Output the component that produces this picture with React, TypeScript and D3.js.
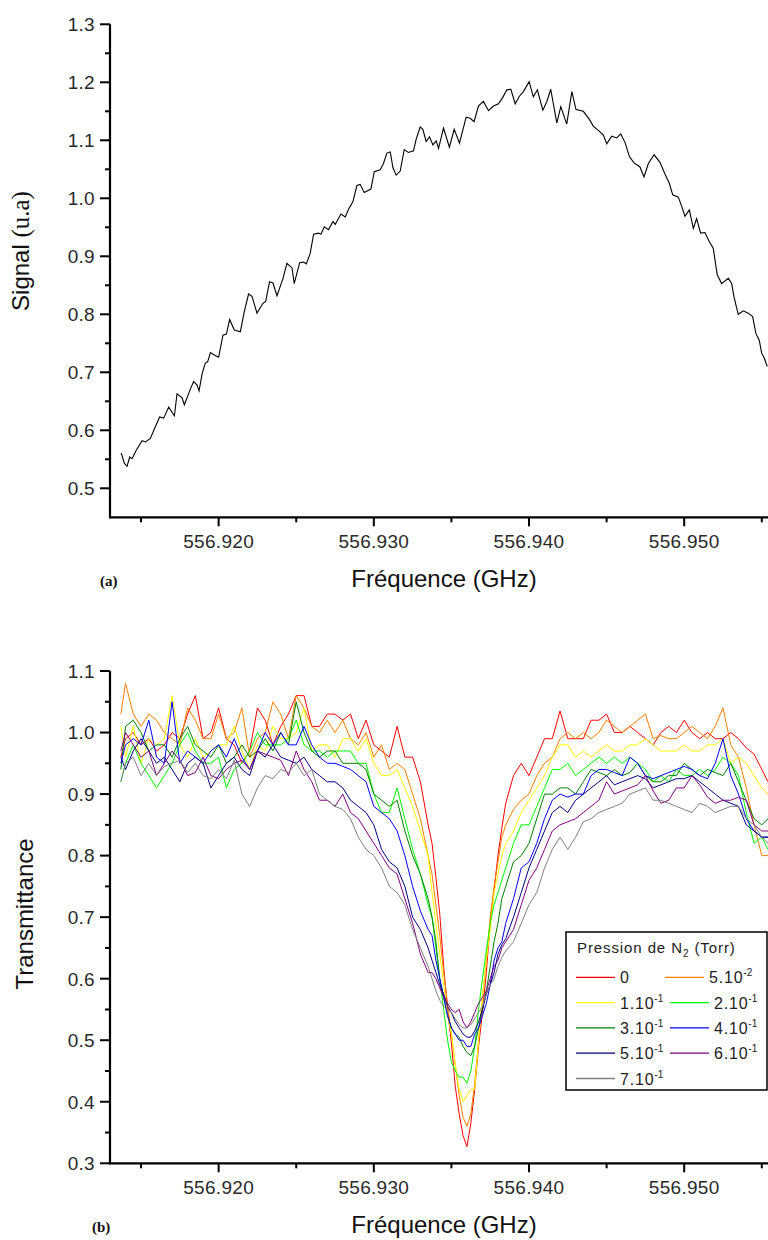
import React, { useEffect } from 'react';
import * as d3 from 'd3';

const W = 768;
const H = 1240;

// ---- axis ticks ----
const xMajorTicks = [556.92, 556.93, 556.94, 556.95];
const xTickLabels = ['556.920', '556.930', '556.940', '556.950'];
const xMinorTicks = [556.915, 556.925, 556.935, 556.945, 556.955];
const topYTicks = [0.5, 0.6, 0.7, 0.8, 0.9, 1.0, 1.1, 1.2, 1.3];
const topYLabels = ['0.5', '0.6', '0.7', '0.8', '0.9', '1.0', '1.1', '1.2', '1.3'];
const topYMinor = [0.55, 0.65, 0.75, 0.85, 0.95, 1.05, 1.15, 1.25];
const botYTicks = [0.3, 0.4, 0.5, 0.6, 0.7, 0.8, 0.9, 1.0, 1.1];
const botYLabels = ['0.3', '0.4', '0.5', '0.6', '0.7', '0.8', '0.9', '1.0', '1.1'];
const botYMinor = [0.35, 0.45, 0.55, 0.65, 0.75, 0.85, 0.95, 1.05];

// ---- panel (a): signal ----
const topFreq = [
  556.91372, 556.91393, 556.9141, 556.91427, 556.91442, 556.9147, 556.91507, 556.91528, 556.9156, 556.91592,
  556.9162, 556.91646, 556.91678, 556.91715, 556.91732, 556.91764, 556.91779, 556.91818, 556.91839, 556.91861,
  556.91874, 556.91893, 556.91914, 556.91929, 556.91947, 556.91972, 556.92, 556.92028, 556.9205, 556.92071,
  556.92101, 556.9214, 556.92165, 556.92193, 556.92215, 556.92247, 556.92286, 556.92303, 556.92328, 556.9235,
  556.92376, 556.92415, 556.9244, 556.92473, 556.92487, 556.92522, 556.92547, 556.92565, 556.9259, 556.92612,
  556.92644, 556.92659, 556.92681, 556.92708, 556.92737, 556.92751, 556.92788, 556.92816, 556.92837, 556.92865,
  556.92891, 556.92912, 556.92938, 556.92981, 556.93003, 556.93041, 556.93062, 556.93084, 556.93106, 556.93123,
  556.93144, 556.9317, 556.93196, 556.93223, 556.93256, 556.93273, 556.93299, 556.93316, 556.93337, 556.93359,
  556.93381, 556.93402, 556.93417, 556.93449, 556.93487, 556.93518, 556.93552, 556.93595, 556.93621, 556.93646,
  556.93674, 556.93706, 556.93739, 556.93771, 556.93803, 556.93831, 556.93857, 556.93883, 556.93911, 556.93938,
  556.93964, 556.94001, 556.94028, 556.94054, 556.94089, 556.94115, 556.9414, 556.94179, 556.94205, 556.94243,
  556.94276, 556.94303, 556.9435, 556.94389, 556.94415, 556.94447, 556.94479, 556.94501, 556.94533, 556.94565,
  556.94591, 556.94619, 556.94647, 556.94677, 556.94715, 556.94741, 556.94769, 556.94806, 556.94844, 556.94876,
  556.94904, 556.94926, 556.94962, 556.94984, 556.95005, 556.95033, 556.95059, 556.9508, 556.95106, 556.95134,
  556.95162, 556.95187, 556.95213, 556.95241, 556.95284, 556.95306, 556.95321, 556.95348, 556.95381, 556.95413,
  556.95441, 556.95462, 556.95484, 556.95499, 556.95514, 556.95535,
];
const topSignal = [
  0.561, 0.543, 0.538, 0.554, 0.551, 0.566, 0.582, 0.58, 0.586, 0.606,
  0.623, 0.621, 0.64, 0.625, 0.663, 0.656, 0.644, 0.671, 0.684, 0.678,
  0.668, 0.697, 0.716, 0.718, 0.734, 0.73, 0.726, 0.764, 0.766, 0.791,
  0.773, 0.77, 0.804, 0.835, 0.831, 0.802, 0.819, 0.822, 0.856, 0.854,
  0.832, 0.862, 0.888, 0.88, 0.853, 0.889, 0.89, 0.887, 0.905, 0.938,
  0.94, 0.938, 0.951, 0.946, 0.96, 0.955, 0.973, 0.968, 0.981, 0.994,
  1.022, 1.024, 1.01, 1.016, 1.046, 1.049, 1.06, 1.078, 1.08, 1.053,
  1.04, 1.047, 1.084, 1.079, 1.082, 1.102, 1.123, 1.119, 1.098, 1.106,
  1.092, 1.099, 1.086, 1.121, 1.088, 1.119, 1.095, 1.14, 1.138, 1.132,
  1.159, 1.167, 1.151, 1.159, 1.163, 1.174, 1.187, 1.188, 1.163, 1.176,
  1.184, 1.201, 1.175, 1.187, 1.152, 1.167, 1.188, 1.13, 1.158, 1.128,
  1.184, 1.153, 1.15, 1.136, 1.124, 1.117, 1.109, 1.094, 1.107, 1.104,
  1.111, 1.096, 1.072, 1.061, 1.054, 1.037, 1.06, 1.075, 1.062, 1.042,
  1.026, 1.006, 1.002, 0.986, 0.969, 0.98, 0.948, 0.965, 0.94, 0.941,
  0.925, 0.914, 0.868, 0.853, 0.862, 0.853, 0.83, 0.8, 0.806, 0.802,
  0.796, 0.767, 0.755, 0.733, 0.726, 0.71,
];

// ---- panel (b): transmittance ----
const botFreq = [
  556.9137, 556.914, 556.9145, 556.915, 556.9155, 556.916, 556.9165, 556.917, 556.9175, 556.918,
  556.9185, 556.919, 556.9195, 556.92, 556.9205, 556.921, 556.9215, 556.922, 556.9225, 556.923,
  556.9235, 556.924, 556.9245, 556.925, 556.9255, 556.926, 556.9265, 556.927, 556.9275, 556.928,
  556.9285, 556.929, 556.9295, 556.93, 556.9305, 556.931, 556.9315, 556.932, 556.9325, 556.933,
  556.9335,
  556.93375, 556.934, 556.93425, 556.9345, 556.93475, 556.935, 556.93525, 556.9355, 556.93575, 556.936,
  556.93625, 556.9365, 556.93675, 556.937, 556.93725, 556.9375, 556.93775, 556.938, 556.93825, 556.9385,
  556.939, 556.9395, 556.94, 556.9405, 556.941, 556.9415, 556.942, 556.9425, 556.943, 556.9435,
  556.944, 556.9445, 556.945, 556.9455, 556.946, 556.9465, 556.947, 556.9475, 556.948, 556.9485,
  556.949, 556.9495, 556.95, 556.9505, 556.951, 556.9515, 556.952, 556.9525, 556.953, 556.9535,
  556.954, 556.9545, 556.955, 556.9554,
];
const trans0 = [
  0.96, 0.99, 1.0, 0.98, 0.99, 0.97, 0.98, 1.0, 0.99, 1.03, 1.06, 0.99, 1.0, 1.04, 0.99, 0.98, 0.95, 0.97, 1.04, 1.02,
  0.98, 1.01, 1.03, 1.06, 1.06, 1.01, 1.01, 1.03, 1.03, 1.02, 1.03, 0.99, 1.02, 0.98, 0.97, 0.96, 1.01, 0.96, 0.96, 0.92, 0.85,
  0.82, 0.765, 0.705, 0.62, 0.55, 0.495, 0.425, 0.38, 0.345, 0.327, 0.365, 0.42, 0.49, 0.545, 0.61, 0.69, 0.745, 0.8, 0.845, 0.885,
  0.93, 0.95, 0.93, 0.96, 0.99, 0.99, 1.035, 0.99, 0.99, 0.99, 1.02, 1.02, 1.03, 1.0, 1.0, 1.01, 1.0, 0.99, 0.98, 1.0,
  1.01, 1.0, 1.02, 1.0, 0.99, 1.0, 0.99, 0.99, 1.0, 0.99, 0.975, 0.965, 0.94, 0.92,
];
const trans5e2 = [
  1.03, 1.08, 1.03, 1.01, 1.03, 1.02, 1.0, 0.99, 0.98, 1.04, 1.02, 0.99, 0.99, 1.03, 0.99, 1.0, 1.04, 0.96, 0.99, 1.0,
  1.05, 1.03, 0.99, 1.06, 1.04, 1.01, 1.0, 1.02, 1.0, 1.02, 0.99, 0.98, 1.0, 0.96, 0.98, 0.94, 0.95, 0.94, 0.9, 0.86, 0.8,
  0.77, 0.72, 0.67, 0.61, 0.56, 0.51, 0.46, 0.41, 0.375, 0.36, 0.38, 0.43, 0.5, 0.57, 0.63, 0.7, 0.75, 0.79, 0.83, 0.85,
  0.875, 0.89, 0.9, 0.93, 0.95, 0.96, 0.99, 1.0, 0.99, 1.0, 0.99, 1.0, 1.02, 1.01, 1.0, 1.01, 1.02, 1.03, 0.99, 0.995,
  0.99, 0.99, 1.0, 1.01, 1.0, 0.99, 1.01, 1.04, 0.98, 0.96, 0.91, 0.85, 0.8, 0.8,
];
const trans1e1 = [
  1.01, 0.96, 1.01, 0.95, 0.99, 0.98, 0.99, 1.06, 0.98, 0.96, 0.99, 0.96, 0.97, 0.98, 0.98, 1.01, 0.97, 0.94, 0.98, 0.97,
  1.01, 0.99, 0.99, 1.0, 1.04, 0.97, 0.98, 0.98, 0.96, 0.99, 0.99, 0.97, 0.99, 0.95, 0.93, 0.93, 0.94, 0.91, 0.88, 0.84, 0.8,
  0.74, 0.69, 0.64, 0.59, 0.54, 0.51, 0.46, 0.42, 0.4, 0.41, 0.42, 0.42, 0.5, 0.57, 0.63, 0.68, 0.74, 0.77, 0.8, 0.82,
  0.84, 0.87, 0.89, 0.91, 0.93, 0.96, 0.98, 0.98, 0.96, 0.97, 0.96, 0.97, 0.98, 0.97, 0.97, 0.98, 0.98, 0.99, 0.98, 0.97,
  0.97, 0.97, 0.98, 0.97, 0.97, 0.98, 0.98, 0.99, 0.95, 0.96, 0.95, 0.93, 0.91, 0.9,
];
const trans2e1 = [
  0.92, 0.95, 0.98, 0.95, 0.93, 0.91, 0.93, 0.95, 0.98, 1.0, 0.97, 0.95, 0.95, 0.96, 0.91, 0.94, 0.95, 0.97, 1.0, 0.98,
  0.98, 0.98, 0.99, 1.02, 0.98, 0.97, 0.97, 0.96, 0.97, 0.97, 0.97, 0.95, 0.95, 0.9, 0.87, 0.87, 0.91, 0.86, 0.81, 0.77, 0.72,
  0.7, 0.65, 0.6, 0.55, 0.5, 0.465, 0.45, 0.44, 0.44, 0.43, 0.45, 0.49, 0.55, 0.6, 0.645, 0.69, 0.72, 0.74, 0.76, 0.78,
  0.82, 0.85, 0.85, 0.88, 0.91, 0.94, 0.94, 0.95, 0.93, 0.94, 0.95, 0.96, 0.95, 0.96, 0.95, 0.96, 0.95, 0.94, 0.92, 0.93,
  0.92, 0.94, 0.93, 0.93, 0.94, 0.93, 0.94, 0.96, 0.95, 0.93, 0.87, 0.82, 0.83, 0.81,
];
const trans3e1 = [
  0.94, 1.01, 1.02, 1.0, 0.97, 0.98, 0.98, 0.96, 0.99, 1.01, 0.98, 0.97, 0.96, 0.98, 0.95, 0.96, 0.98, 0.96, 0.97, 0.99,
  0.97, 1.0, 0.98, 1.05, 1.0, 0.97, 0.96, 0.97, 0.97, 0.95, 0.95, 0.95, 0.94, 0.9, 0.89, 0.88, 0.89, 0.84, 0.8, 0.77, 0.73,
  0.7, 0.66, 0.6, 0.57, 0.54, 0.52, 0.51, 0.505, 0.49, 0.48, 0.475, 0.49, 0.52, 0.55, 0.58, 0.62, 0.66, 0.69, 0.73, 0.75,
  0.79, 0.8, 0.82, 0.86, 0.9, 0.9, 0.91, 0.91, 0.9, 0.92, 0.94, 0.935, 0.93, 0.94, 0.93, 0.935, 0.95, 0.93, 0.92, 0.92,
  0.93, 0.93, 0.95, 0.94, 0.93, 0.94, 0.935, 0.93, 0.95, 0.92, 0.89, 0.86, 0.85, 0.86,
];
const trans4e1 = [
  0.95, 0.98, 0.99, 0.98, 1.02, 0.96, 0.95, 1.05, 0.95, 0.97, 0.96, 0.95, 0.97, 0.98, 0.96, 0.99, 0.96, 0.94, 0.97, 1.0,
  0.98, 1.0, 0.98, 0.98, 1.01, 0.98, 0.96, 0.95, 0.95, 0.945, 0.94, 0.93, 0.92, 0.88, 0.87, 0.86, 0.84, 0.8, 0.75, 0.71, 0.68,
  0.67, 0.63, 0.6, 0.57, 0.54, 0.52, 0.51, 0.5, 0.5, 0.49, 0.49, 0.51, 0.52, 0.54, 0.56, 0.59, 0.63, 0.65, 0.66, 0.69,
  0.73, 0.78, 0.79, 0.82, 0.86, 0.89, 0.9, 0.895, 0.9, 0.9, 0.93, 0.94, 0.94, 0.935, 0.93, 0.96, 0.95, 0.93, 0.925, 0.93,
  0.935, 0.94, 0.945, 0.94, 0.93, 0.925, 0.95, 0.99, 0.93, 0.9, 0.86, 0.84, 0.83, 0.83,
];
const trans5e1 = [
  0.96, 0.94, 0.97, 0.99, 0.97, 0.95, 0.96, 0.94, 0.92, 0.95, 0.96, 0.95, 0.91, 0.93, 0.95, 0.96, 0.94, 0.93, 0.97, 0.96,
  0.98, 0.96, 0.955, 0.95, 0.96, 0.94, 0.93, 0.92, 0.92, 0.91, 0.89, 0.88, 0.87, 0.85, 0.81, 0.79, 0.78, 0.75, 0.7, 0.68, 0.65,
  0.63, 0.61, 0.59, 0.575, 0.555, 0.545, 0.53, 0.52, 0.51, 0.505, 0.505, 0.515, 0.53, 0.55, 0.575, 0.59, 0.61, 0.64, 0.655, 0.665,
  0.7, 0.74, 0.78, 0.81, 0.84, 0.87, 0.88, 0.87, 0.89, 0.9, 0.91, 0.92, 0.93, 0.915, 0.92, 0.925, 0.93, 0.925, 0.91, 0.915,
  0.92, 0.925, 0.925, 0.93, 0.92, 0.91, 0.9, 0.89, 0.885, 0.88, 0.85, 0.84, 0.83, 0.83,
];
const trans6e1 = [
  0.97, 1.0, 0.98, 0.96, 0.97, 0.93, 0.95, 0.97, 0.955, 0.93, 0.935, 0.96, 0.93, 0.925, 0.94, 0.95, 0.955, 0.94, 0.97, 0.965,
  0.96, 0.955, 0.93, 0.97, 0.94, 0.92, 0.89, 0.89, 0.88, 0.9, 0.87, 0.86, 0.84, 0.82, 0.8, 0.78, 0.77, 0.73, 0.69, 0.64, 0.61,
  0.61, 0.6, 0.585, 0.57, 0.56, 0.55, 0.545, 0.55, 0.53, 0.52, 0.53, 0.545, 0.56, 0.57, 0.58, 0.6, 0.62, 0.63, 0.65, 0.66,
  0.68, 0.72, 0.76, 0.78, 0.81, 0.84, 0.85, 0.855, 0.86, 0.87, 0.88, 0.89, 0.92, 0.9, 0.905, 0.91, 0.915, 0.93, 0.905, 0.885,
  0.89, 0.91, 0.91, 0.93, 0.915, 0.895, 0.885, 0.89, 0.89, 0.895, 0.89, 0.85, 0.84, 0.84,
];
const trans7e1 = [
  0.92, 0.95, 0.96, 0.93, 0.95, 0.93, 0.945, 0.95, 0.955, 0.935, 0.95, 0.93, 0.925, 0.94, 0.925, 0.955, 0.9, 0.88, 0.91, 0.93,
  0.925, 0.94, 0.935, 0.95, 0.93, 0.94, 0.9, 0.89, 0.88, 0.875, 0.86, 0.83, 0.81, 0.8, 0.78, 0.75, 0.74, 0.72, 0.68, 0.65, 0.62,
  0.6, 0.58, 0.565, 0.555, 0.55, 0.545, 0.535, 0.525, 0.52, 0.52, 0.525, 0.535, 0.545, 0.555, 0.575, 0.59, 0.6, 0.62, 0.635, 0.645,
  0.66, 0.69, 0.72, 0.74, 0.78, 0.81, 0.83, 0.81, 0.83, 0.855, 0.86, 0.87, 0.875, 0.88, 0.885, 0.9, 0.905, 0.91, 0.89, 0.89,
  0.885, 0.88, 0.875, 0.87, 0.885, 0.88, 0.87, 0.875, 0.88, 0.88, 0.86, 0.85, 0.83, 0.82,
];

const seriesValues = [trans0, trans5e2, trans1e1, trans2e1, trans3e1, trans4e1, trans5e1, trans6e1, trans7e1];
const seriesMantissa = ['0', '5.10', '1.10', '2.10', '3.10', '4.10', '5.10', '6.10', '7.10'];
const seriesExponent = ['', '-2', '-1', '-1', '-1', '-1', '-1', '-1', '-1'];
const seriesColors = ['#ff0000', '#ff8000', '#ffff00', '#00ff00', '#008000', '#0000ff', '#000080', '#800080', '#808080'];

const SANS = "'Liberation Sans', Arial, sans-serif";
const SERIF = "'Liberation Serif', 'Times New Roman', serif";

function Axes({ y, yTicks, yLabels, yMinor, x, axisY, topY }: any) {
  const left = 110;
  const right = 768;
  return (
    <g>
      <line x1={left} x2={left} y1={topY} y2={axisY + 1} stroke="#000" strokeWidth={2.2} />
      <line x1={left - 1} x2={right} y1={axisY} y2={axisY} stroke="#000" strokeWidth={2.2} />
      {yTicks.map((t: number, i: number) => (
        <g key={'yt' + i}>
          <line x1={left - 10} x2={left} y1={y(t)} y2={y(t)} stroke="#000" strokeWidth={2} />
          <text x={95} y={y(t)} dy="0.36em" textAnchor="end" fontFamily={SANS} fontSize={19}
            letterSpacing={0.3} fill="#2a2a2a">{yLabels[i]}</text>
        </g>
      ))}
      {yMinor.map((t: number, i: number) => (
        <line key={'ym' + i} x1={left - 5} x2={left} y1={y(t)} y2={y(t)} stroke="#000" strokeWidth={2} />
      ))}
      {xMajorTicks.map((t, i) => (
        <g key={'xt' + i}>
          <line x1={x(t)} x2={x(t)} y1={axisY} y2={axisY + 9} stroke="#000" strokeWidth={2} />
          <text x={x(t)} y={axisY + 31} textAnchor="middle" fontFamily={SANS} fontSize={19}
            letterSpacing={0.3} fill="#2a2a2a">{xTickLabels[i]}</text>
        </g>
      ))}
      {xMinorTicks.map((t, i) => (
        <line key={'xm' + i} x1={x(t)} x2={x(t)} y1={axisY} y2={axisY + 5} stroke="#000" strokeWidth={2} />
      ))}
      <text x={444} y={axisY + 70} textAnchor="middle" fontFamily={SANS} fontSize={24} fill="#111">
        Fréquence (GHz)
      </text>
    </g>
  );
}

export default function App() {
  useEffect(() => {
    document.body.style.margin = '0';
  }, []);

  const x = d3.scaleLinear().domain([556.913, 556.9554]).range([110, 768]);
  const yTop = d3.scaleLinear().domain([0.45, 1.3]).range([517.3, 24.3]);
  const yBot = d3.scaleLinear().domain([0.3, 1.1]).range([1163.3, 671]);

  const topLine = d3
    .line<number>()
    .x((_, i) => x(topFreq[i]))
    .y((d) => yTop(d));
  const botLine = d3
    .line<number>()
    .x((_, i) => x(botFreq[i]))
    .y((d) => yBot(d));

  // legend layout
  const legRowY = (r: number) => 977.3 + r * 25.3;

  return (
    <svg width={W} height={H} viewBox={`0 0 ${W} ${H}`}
      style={{ position: 'absolute', left: 0, top: 0, background: '#fff' }}>
      <defs>
        <clipPath id="clipTop"><rect x={110} y={0} width={658} height={517} /></clipPath>
        <clipPath id="clipBot"><rect x={110} y={640} width={658} height={523} /></clipPath>
      </defs>
      <rect x={0} y={0} width={W} height={H} fill="#fff" />

      {/* Panel (a) */}
      <g clipPath="url(#clipTop)">
        <path d={topLine(topSignal) || ''} fill="none" stroke="#000" strokeWidth={1.1} />
      </g>
      <Axes y={yTop} yTicks={topYTicks} yLabels={topYLabels} yMinor={topYMinor} x={x} axisY={517.3} topY={24.3} />
      <text transform="translate(29,251) rotate(-90)" textAnchor="middle" fontSize={24} fill="#111">
        <tspan fontFamily={SANS}>Signal </tspan>
        <tspan fontFamily={SERIF} fontSize={25}>(u.a)</tspan>
      </text>
      <text x={100} y={586} fontFamily={SERIF} fontWeight="bold" fontSize={15} fill="#111">(a)</text>

      {/* Panel (b) */}
      <g clipPath="url(#clipBot)">
        {seriesValues.map((vals, i) => (
          <path key={'s' + i} d={botLine(vals) || ''} fill="none" stroke={seriesColors[i]} strokeWidth={1} />
        ))}
      </g>
      <Axes y={yBot} yTicks={botYTicks} yLabels={botYLabels} yMinor={botYMinor} x={x} axisY={1163.3} topY={671} />
      <text transform="translate(33,914) rotate(-90)" textAnchor="middle" fontFamily={SANS} fontSize={24} fill="#111">
        Transmittance
      </text>
      <text x={92} y={1232} fontFamily={SERIF} fontWeight="bold" fontSize={15} fill="#111">(b)</text>

      {/* Legend */}
      <g>
        <rect x={566} y={932} width={201} height={158} fill="#fff" stroke="#000" strokeWidth={1.5} />
        <text x={577} y={953} fontFamily={SANS} fontSize={15} letterSpacing={0.9} fill="#222">
          Pression de N<tspan fontSize={10} dy={4}>2</tspan><tspan dy={-4}> (Torr)</tspan>
        </text>
        {seriesColors.map((c, i) => {
          const row = Math.floor(i / 2);
          const col = i % 2;
          const x0 = col === 0 ? 576 : row === 0 ? 665 : 670;
          const yy = legRowY(row);
          return (
            <g key={'lg' + i}>
              <line x1={x0} x2={x0 + 39} y1={yy} y2={yy} stroke={c} strokeWidth={1.3} />
              <text x={x0 + 44} y={yy + 6} fontFamily={SANS} fontSize={16} letterSpacing={0.8} fill="#222">
                {seriesMantissa[i]}
                {seriesExponent[i] ? (
                  <tspan fontSize={10} dy={-7} letterSpacing={0}>{seriesExponent[i]}</tspan>
                ) : null}
              </text>
            </g>
          );
        })}
      </g>
    </svg>
  );
}
